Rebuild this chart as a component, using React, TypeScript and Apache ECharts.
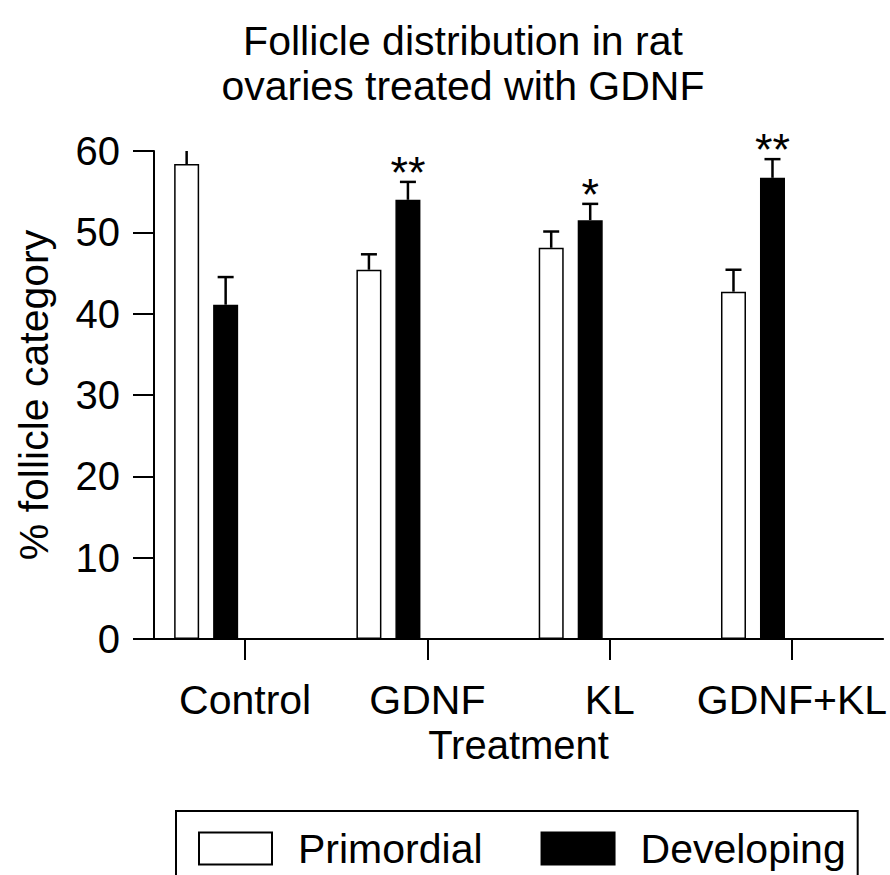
import React, { useEffect, useRef } from "react";
import * as echarts from "echarts";

const categories = ["Control", "GDNF", "KL", "GDNF+KL"];
const primordial = [58.4, 45.4, 48.1, 42.7];
const primordialErr = [2.0, 1.9, 2.0, 2.7];
const developing = [41.1, 54.0, 51.5, 56.7];
const developingErr = [3.4, 2.2, 2.0, 2.3];
const significance = ["", "**", "*", "**"];
const seriesNames = ["Primordial", "Developing"];

const FONT = "'Liberation Sans', Arial, Helvetica, sans-serif";
const BAR_W = 25;
const BAR_GAP = 14;
const N_SLOTS = 4;
const slotOffset = (k: number) => {
  const total = N_SLOTS * BAR_W + (N_SLOTS - 1) * BAR_GAP;
  return -total / 2 + BAR_W / 2 + k * (BAR_W + BAR_GAP);
};

function errorSeries(name: string, values: number[], errs: number[], slot: number) {
  return {
    type: "custom",
    name,
    clip: true,
    silent: true,
    z: 3,
    data: values.map((v, i) => [i, v, errs[i]]),
    encode: { x: 0, y: 1 },
    renderItem: (params: any, api: any) => {
      const i = api.value(0);
      const v = api.value(1);
      const e = api.value(2);
      const base = api.coord([i, v]);
      const top = api.coord([i, v + e]);
      const x = base[0] + slotOffset(slot);
      const style = { stroke: "#000", lineWidth: 2.5 };
      return {
        type: "group",
        children: [
          { type: "line", shape: { x1: x, y1: base[1], x2: x, y2: top[1] }, style },
          { type: "line", shape: { x1: x - 8, y1: top[1], x2: x + 8, y2: top[1] }, style },
        ],
      };
    },
  };
}

export default function App() {
  const ref = useRef<HTMLDivElement>(null);
  useEffect(() => {
    if (!ref.current) return;
    const chart = echarts.init(ref.current, undefined, { renderer: "svg" });
    const barStyle = (fill: string) => ({ color: fill, borderColor: "#000", borderWidth: 1.5 });
    const gapPct = `${(BAR_GAP / BAR_W) * 100}%`;
    chart.setOption({
      animation: false,
      backgroundColor: "#fff",
      title: {
        text: "Follicle distribution in rat\novaries treated with GDNF",
        left: 458,
        top: 13,
        textAlign: "center",
        textStyle: { fontFamily: FONT, fontSize: 41, fontWeight: "normal", color: "#000", lineHeight: 45 },
      },
      legend: {
        data: seriesNames,
        icon: "rect",
        left: 176,
        top: 811,
        padding: [17, 12, 40, 22],
        borderColor: "#000",
        borderWidth: 2,
        itemWidth: 73,
        itemHeight: 32,
        itemGap: 58,
        itemStyle: { borderWidth: 2, borderColor: "#000" },
        textStyle: { fontFamily: FONT, fontSize: 41, color: "#000", padding: [0, 0, 0, 21] },
      },
      grid: { left: 154, right: 6, top: 151, bottom: 236, containLabel: false },
      xAxis: {
        type: "category",
        data: categories,
        name: "Treatment",
        nameLocation: "middle",
        nameGap: 80,
        nameTextStyle: { fontFamily: FONT, fontSize: 40, color: "#000" },
        axisLine: { show: true, lineStyle: { color: "#000", width: 2 } },
        axisTick: { show: true, alignWithLabel: true, interval: 0, length: 21, lineStyle: { color: "#000", width: 2 } },
        axisLabel: { interval: 0, fontFamily: FONT, fontSize: 41, color: "#000", margin: 40 },
        splitLine: { show: false },
      },
      yAxis: {
        type: "value",
        min: 0,
        max: 60,
        interval: 10,
        name: "% follicle category",
        nameLocation: "middle",
        nameGap: 100,
        nameTextStyle: { fontFamily: FONT, fontSize: 41, color: "#000" },
        axisLine: { show: true, lineStyle: { color: "#000", width: 2 } },
        axisTick: { show: true, length: 21, lineStyle: { color: "#000", width: 2 } },
        axisLabel: { fontFamily: FONT, fontSize: 40, color: "#000", margin: 34 },
        splitLine: { show: false },
      },
      series: [
        {
          type: "bar",
          name: seriesNames[0],
          data: primordial,
          barWidth: BAR_W,
          barGap: gapPct,
          itemStyle: barStyle("#fff"),
        },
        {
          type: "bar",
          name: seriesNames[1],
          data: developing,
          barWidth: BAR_W,
          barGap: gapPct,
          itemStyle: barStyle("#000"),
        },
        { type: "bar", name: "_slot3", data: categories.map(() => "-"), barWidth: BAR_W, barGap: gapPct },
        { type: "bar", name: "_slot4", data: categories.map(() => "-"), barWidth: BAR_W, barGap: gapPct },
        errorSeries("primordialErr", primordial, primordialErr, 0),
        errorSeries("developingErr", developing, developingErr, 1),
        {
          type: "custom",
          name: "significance",
          clip: false,
          silent: true,
          z: 4,
          data: developing.map((v, i) => [i, v + developingErr[i]]),
          encode: { x: 0, y: 1 },
          renderItem: (params: any, api: any) => {
            const p = api.coord([api.value(0), api.value(1)]);
            const label = significance[params.dataIndex];
            if (!label) return null;
            return {
              type: "text",
              x: p[0] + slotOffset(1),
              y: p[1] + 13,
              style: {
                text: label,
                fontFamily: FONT,
                fontSize: 45,
                fill: "#000",
                align: "center",
                verticalAlign: "bottom",
              },
            };
          },
        },
      ],
    });
    return () => chart.dispose();
  }, []);
  return <div ref={ref} style={{ position: "absolute", left: 0, top: 0, width: 890, height: 875 }} />;
}
